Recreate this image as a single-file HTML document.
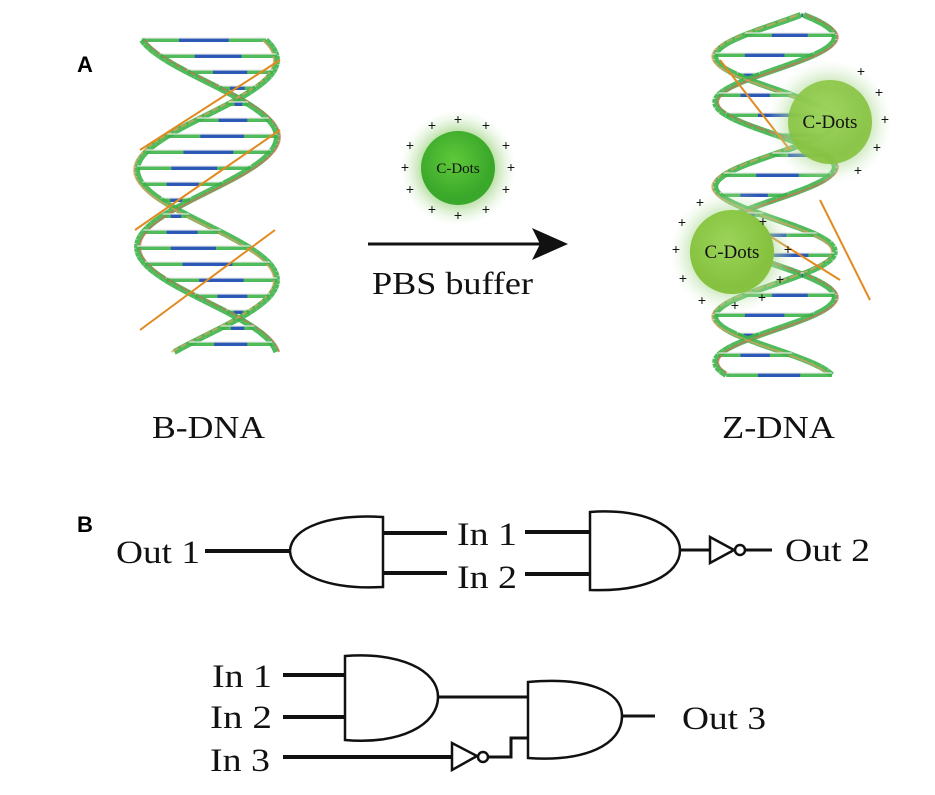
<!DOCTYPE html>
<html><head><meta charset="utf-8"><style>
body{margin:0;background:#fff;}
svg{display:block;}
.t{font-family:"Liberation Serif",serif;fill:#111;}
.p{font-family:"Liberation Sans",sans-serif;font-size:14px;fill:#111;}
</style></head><body>
<svg id="s" width="935" height="795" viewBox="0 0 935 795" xmlns="http://www.w3.org/2000/svg">
<defs>
<radialGradient id="glow"><stop offset="0.55" stop-color="#9bd17a" stop-opacity="0.9"/><stop offset="1" stop-color="#d8efd0" stop-opacity="0"/></radialGradient>
<radialGradient id="ball" cx="0.45" cy="0.4"><stop offset="0" stop-color="#9cd45a"/><stop offset="1" stop-color="#86c23f"/></radialGradient>
<radialGradient id="ball2" cx="0.45" cy="0.4"><stop offset="0" stop-color="#5fc83a"/><stop offset="1" stop-color="#3aa82a"/></radialGradient>
</defs>
<g id="dna"></g>
<text x="77" y="72" font-family="Liberation Sans,sans-serif" font-weight="bold" font-size="22">A</text>
<text x="77" y="532" font-family="Liberation Sans,sans-serif" font-weight="bold" font-size="22">B</text>
<circle cx="458" cy="168" r="58" fill="url(#glow)"/>
<circle cx="458" cy="168" r="37" fill="url(#ball2)"/>
<text x="458" y="173" text-anchor="middle" class="t" font-size="15">C-Dots</text>
<g class="p" text-anchor="middle">
<text x="432" y="130">+</text><text x="458" y="124">+</text><text x="486" y="130">+</text>
<text x="410" y="150">+</text><text x="506" y="150">+</text>
<text x="405" y="172">+</text><text x="511" y="172">+</text>
<text x="410" y="194">+</text><text x="506" y="194">+</text>
<text x="432" y="214">+</text><text x="458" y="220">+</text><text x="486" y="214">+</text>
</g>
<line x1="368" y1="244" x2="540" y2="244" stroke="#111" stroke-width="3"/>
<polygon points="568,244 532,228 540,244 532,260" fill="#111"/>
<text x="372" y="294" class="t" font-size="32" textLength="161" lengthAdjust="spacingAndGlyphs">PBS buffer</text>
<text x="152" y="438" class="t" font-size="32" textLength="113" lengthAdjust="spacingAndGlyphs">B-DNA</text>
<text x="722" y="438" class="t" font-size="32" textLength="113" lengthAdjust="spacingAndGlyphs">Z-DNA</text>
<g id="zb">
<circle cx="830" cy="122" r="62" fill="url(#glow)" opacity="0.8"/>
<circle cx="830" cy="122" r="42" fill="url(#ball)" opacity="0.9"/>
<text x="830" y="128" text-anchor="middle" class="t" font-size="19">C-Dots</text>
<circle cx="732" cy="252" r="62" fill="url(#glow)" opacity="0.8"/>
<circle cx="732" cy="252" r="42" fill="url(#ball)"/>
<text x="732" y="258" text-anchor="middle" class="t" font-size="19">C-Dots</text>
<g class="p" text-anchor="middle" font-size="15">
<text x="861" y="76">+</text><text x="879" y="97">+</text><text x="885" y="124">+</text><text x="877" y="152">+</text><text x="858" y="175">+</text>
<text x="700" y="207">+</text><text x="682" y="227">+</text><text x="676" y="254">+</text><text x="683" y="283">+</text><text x="702" y="305">+</text>
<text x="763" y="226">+</text><text x="788" y="254">+</text><text x="780" y="284">+</text><text x="735" y="310">+</text><text x="762" y="302">+</text>
</g></g>
<g fill="none" stroke="#111" stroke-width="3">
<line x1="205" y1="551" x2="290" y2="551" stroke-width="4"/>
<path d="M383,517 L383,587 C330,590 291,575 290,551 C291,527 330,514 383,517 Z" stroke-width="2.5"/>
<line x1="383" y1="533" x2="447" y2="533" stroke-width="4"/>
<line x1="383" y1="573" x2="447" y2="573" stroke-width="4"/>
<line x1="525" y1="532" x2="590" y2="532" stroke-width="4"/>
<line x1="525" y1="574" x2="590" y2="574" stroke-width="4"/>
<path d="M590,512 L590,590 C645,592 680,575 680,550 C680,527 645,508 590,512 Z" stroke-width="2.5"/>
<line x1="680" y1="550" x2="710" y2="550"/>
<path d="M710,537 L710,563 L734,550 Z" stroke-width="2.5"/>
<circle cx="740" cy="550" r="5" stroke-width="2.5"/>
<line x1="745" y1="550" x2="772" y2="550"/>
<line x1="283" y1="675" x2="345" y2="675" stroke-width="4"/>
<line x1="283" y1="717" x2="345" y2="717" stroke-width="4"/>
<path d="M345,656 L345,740 C400,745 438,725 438,697 C438,670 400,652 345,656 Z" stroke-width="2.5"/>
<line x1="438" y1="697" x2="528" y2="697"/>
<path d="M528,682 L528,758 C585,762 622,745 622,716 C622,690 585,677 528,682 Z" stroke-width="2.5"/>
<line x1="622" y1="716" x2="655" y2="716"/>
<line x1="283" y1="757" x2="452" y2="757" stroke-width="4"/>
<path d="M452,743 L452,770 L477,756 Z" stroke-width="2.5"/>
<circle cx="483" cy="757" r="5" stroke-width="2.5"/>
<path d="M488,757 L511,757 L511,738 L528,738" stroke-width="3"/>
</g>
<g class="t" font-size="33">
<text x="116" y="563" textLength="84" lengthAdjust="spacingAndGlyphs">Out 1</text>
<text x="457" y="545" textLength="60" lengthAdjust="spacingAndGlyphs">In 1</text>
<text x="457" y="588" textLength="60" lengthAdjust="spacingAndGlyphs">In 2</text>
<text x="785" y="561" textLength="85" lengthAdjust="spacingAndGlyphs">Out 2</text>
<text x="212" y="687" textLength="60" lengthAdjust="spacingAndGlyphs">In 1</text>
<text x="210" y="728" textLength="62" lengthAdjust="spacingAndGlyphs">In 2</text>
<text x="210" y="771" textLength="60" lengthAdjust="spacingAndGlyphs">In 3</text>
<text x="682" y="729" textLength="84" lengthAdjust="spacingAndGlyphs">Out 3</text>
</g>
</svg>
<script>
(function(){
var g=document.getElementById('dna'),NS='http://www.w3.org/2000/svg';
function L(x1,y1,x2,y2,c,w,o){var e=document.createElementNS(NS,'line');e.setAttribute('x1',x1);e.setAttribute('y1',y1);e.setAttribute('x2',x2);e.setAttribute('y2',y2);e.setAttribute('stroke',c);e.setAttribute('stroke-width',w);if(o)e.setAttribute('opacity',o);g.appendChild(e);}
function helix(cx,amp,y0,y1,period,ph,rung){
 var prevA=null,prevB=null;
 for(var y=y0;y<=y1;y+=4){
  var a=cx+amp*Math.sin((y-y0)/period*2*Math.PI+ph), b=cx+amp*Math.sin((y-y0)/period*2*Math.PI+ph+2.2);
  if(prevA){L(prevA[0],prevA[1],a,y,'#3cb44a',6,0.9);L(prevB[0],prevB[1],b,y,'#3cb44a',6,0.9);
   L(prevA[0]+3,prevA[1],a+3,y,'#d0705a',2,0.7);L(prevB[0]-3,prevB[1],b-3,y,'#e0a060',2,0.7);}
  prevA=[a,y];prevB=[b,y];
  if(((y-y0)%rung)==0){
   L(a,y,b,y,'#3cb44a',4,0.9);
   var m=(a+b)/2;L(m-Math.abs(a-b)*0.2,y,m+Math.abs(a-b)*0.2,y,'#2a4fc0',4,0.9);
   L(a,y-2,b,y-2,'#e8e8e8',1.5,0.8);
  }
 }
}
helix(207,70,40,355,220,-1.2,16);
L(140,150,280,60,'#e08a20',2);L(135,230,280,130,'#e08a20',2);L(140,330,275,230,'#e08a20',2);
helix(775,60,15,375,130,0.5,20);
L(720,60,790,150,'#e08a20',2);L(820,200,870,300,'#e08a20',2);L(760,230,840,280,'#e08a20',2);
var zb=document.getElementById('zb');zb.parentNode.appendChild(zb);
})();
</script>
</body></html>
